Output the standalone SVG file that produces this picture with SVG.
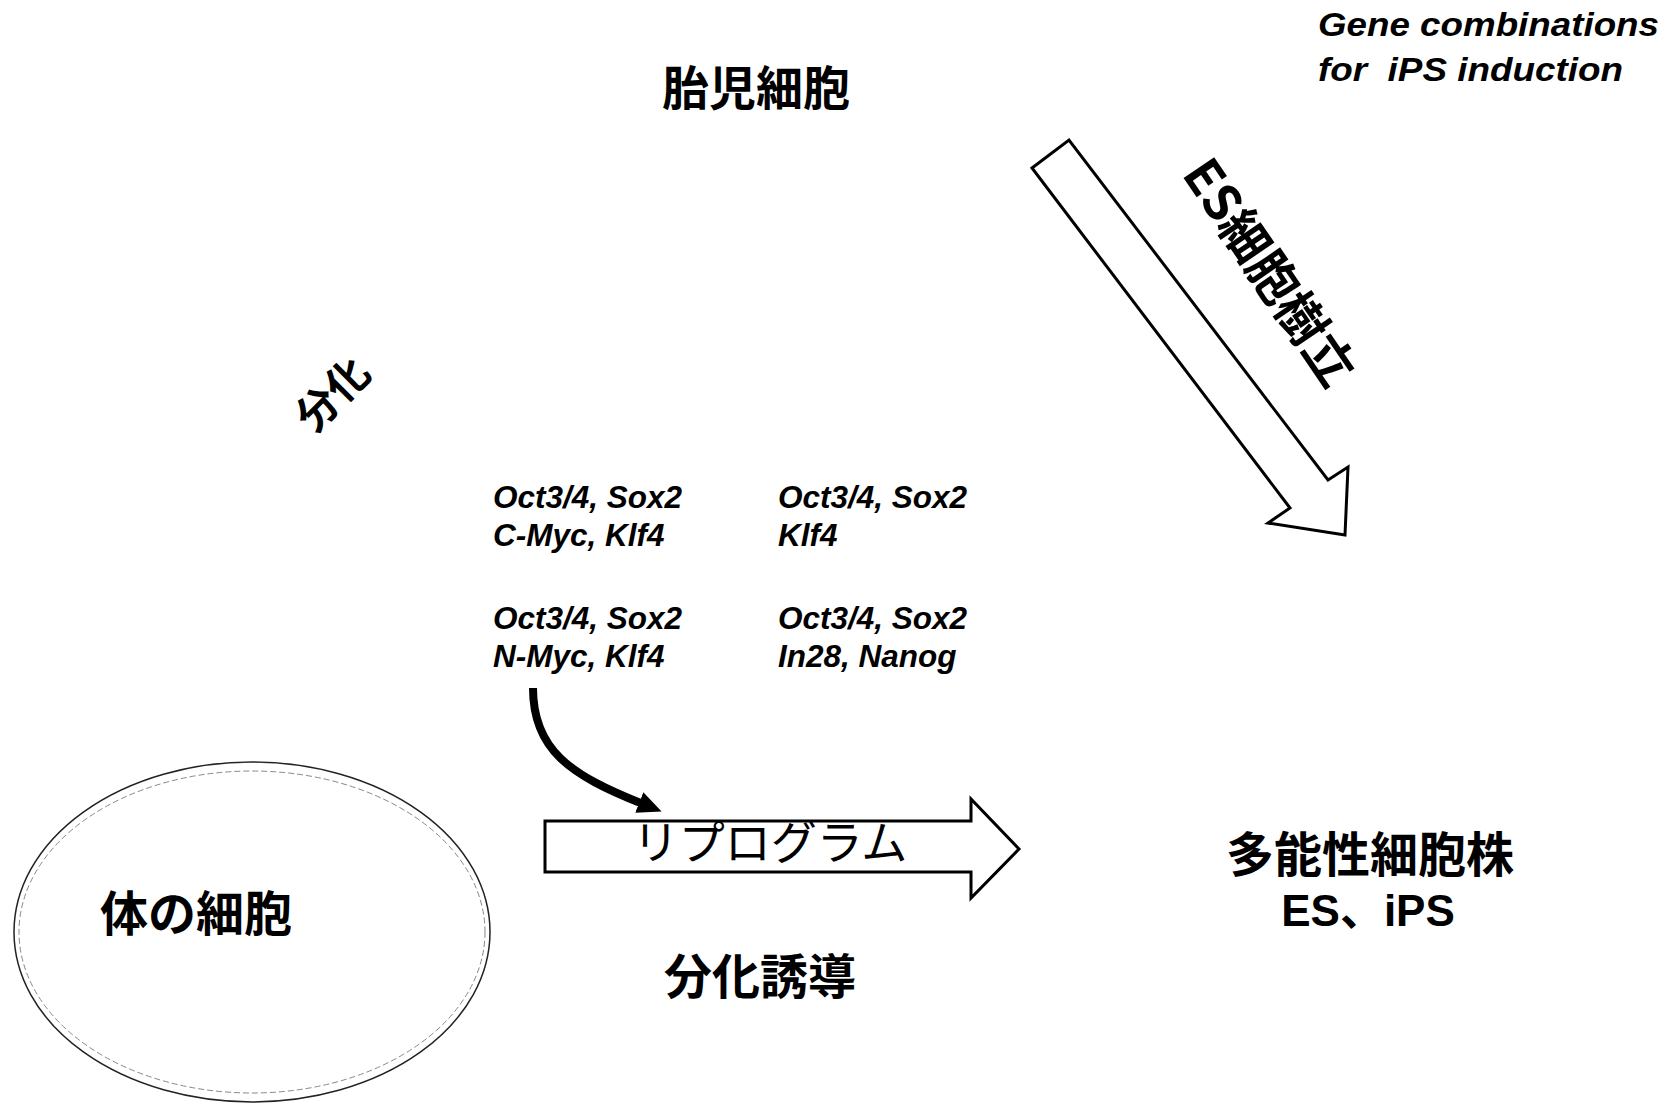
<svg xmlns="http://www.w3.org/2000/svg" width="1677" height="1104" viewBox="0 0 1677 1104">
<style>
.jp{font-family:"Noto Sans CJK JP","Liberation Sans",sans-serif;font-weight:bold;fill:#000}
.jpl{font-family:"Noto Sans CJK JP",sans-serif;font-weight:normal;fill:#000}
.gene{font-family:"Liberation Sans",Arial,sans-serif;font-weight:bold;font-style:italic;font-size:31.5px;fill:#000}
.hdr{font-family:"Liberation Sans",Arial,sans-serif;font-weight:bold;font-style:italic;font-size:33px;fill:#000;white-space:pre}
.lat{font-family:"Liberation Sans","Noto Sans CJK JP",sans-serif;font-weight:bold;fill:#000}
.bigarrow{fill:#fff;stroke:#000;stroke-width:3;stroke-linejoin:miter}
</style>
<defs>
<marker id="head" markerUnits="userSpaceOnUse" viewBox="0 0 24 22" refX="4" refY="11" markerWidth="24" markerHeight="22" orient="auto">
<path d="M0,0 L24,11 L0,22 z" fill="#000"/>
</marker>
</defs>
<rect width="1677" height="1104" fill="#fff"/>

<g id="header">
<text class="hdr" x="1318" y="36" textLength="341" lengthAdjust="spacingAndGlyphs">Gene combinations</text>
<text class="hdr" x="1318" y="81" textLength="305" lengthAdjust="spacingAndGlyphs">for  iPS induction</text>
</g>

<g id="node-fetal">
<text class="jp" x="756" y="105" font-size="47" text-anchor="middle">胎児細胞</text>
</g>

<g id="node-somatic">
<ellipse cx="252" cy="932" rx="238" ry="170" fill="#fff" stroke="#222" stroke-width="1.5"/>
<ellipse cx="252" cy="932" rx="233" ry="161" fill="none" stroke="#888" stroke-width="1" stroke-dasharray="6 3"/>
<text class="jp" x="196" y="931" font-size="48" text-anchor="middle">体の細胞</text>
</g>

<g id="node-pluripotent">
<text class="jp" x="1370" y="872" font-size="48" text-anchor="middle">多能性細胞株</text>
<text class="lat" x="1368" y="926" font-size="44" text-anchor="middle">ES、iPS</text>
</g>

<g id="node-genes">
<text class="gene" x="493" y="508">Oct3/4, Sox2</text>
<text class="gene" x="493" y="546">C-Myc, Klf4</text>
<text class="gene" x="778" y="508">Oct3/4, Sox2</text>
<text class="gene" x="778" y="546">Klf4</text>
<text class="gene" x="493" y="629">Oct3/4, Sox2</text>
<text class="gene" x="493" y="667">N-Myc, Klf4</text>
<text class="gene" x="778" y="629">Oct3/4, Sox2</text>
<text class="gene" x="778" y="667">In28, Nanog</text>
</g>

<g id="connectors">
<polygon id="arrow-es" class="bigarrow" points="1032,168 1069,140 1328,480 1348,467 1345,535 1268,523 1290,508"/>
<polygon id="arrow-reprogram" class="bigarrow" points="545,821 971,821 971,799 1019,849 971,898 971,872 545,872"/>
<path id="arrow-genes" d="M533,688 C533,750 570,775 643,804" fill="none" stroke="#000" stroke-width="8" marker-end="url(#head)"/>
</g>

<g id="labels">
<text class="jp" font-size="50" text-anchor="middle" dominant-baseline="central" transform="translate(1273,270) rotate(55.7)">ES細胞樹立</text>
<text class="jpl" x="770" y="859" font-size="46" text-anchor="middle">リプログラム</text>
<text class="jp" font-size="42" text-anchor="middle" dominant-baseline="central" transform="translate(330,392) rotate(-45)">分化</text>
<text class="jp" x="760" y="994" font-size="48" text-anchor="middle">分化誘導</text>
</g>
</svg>
